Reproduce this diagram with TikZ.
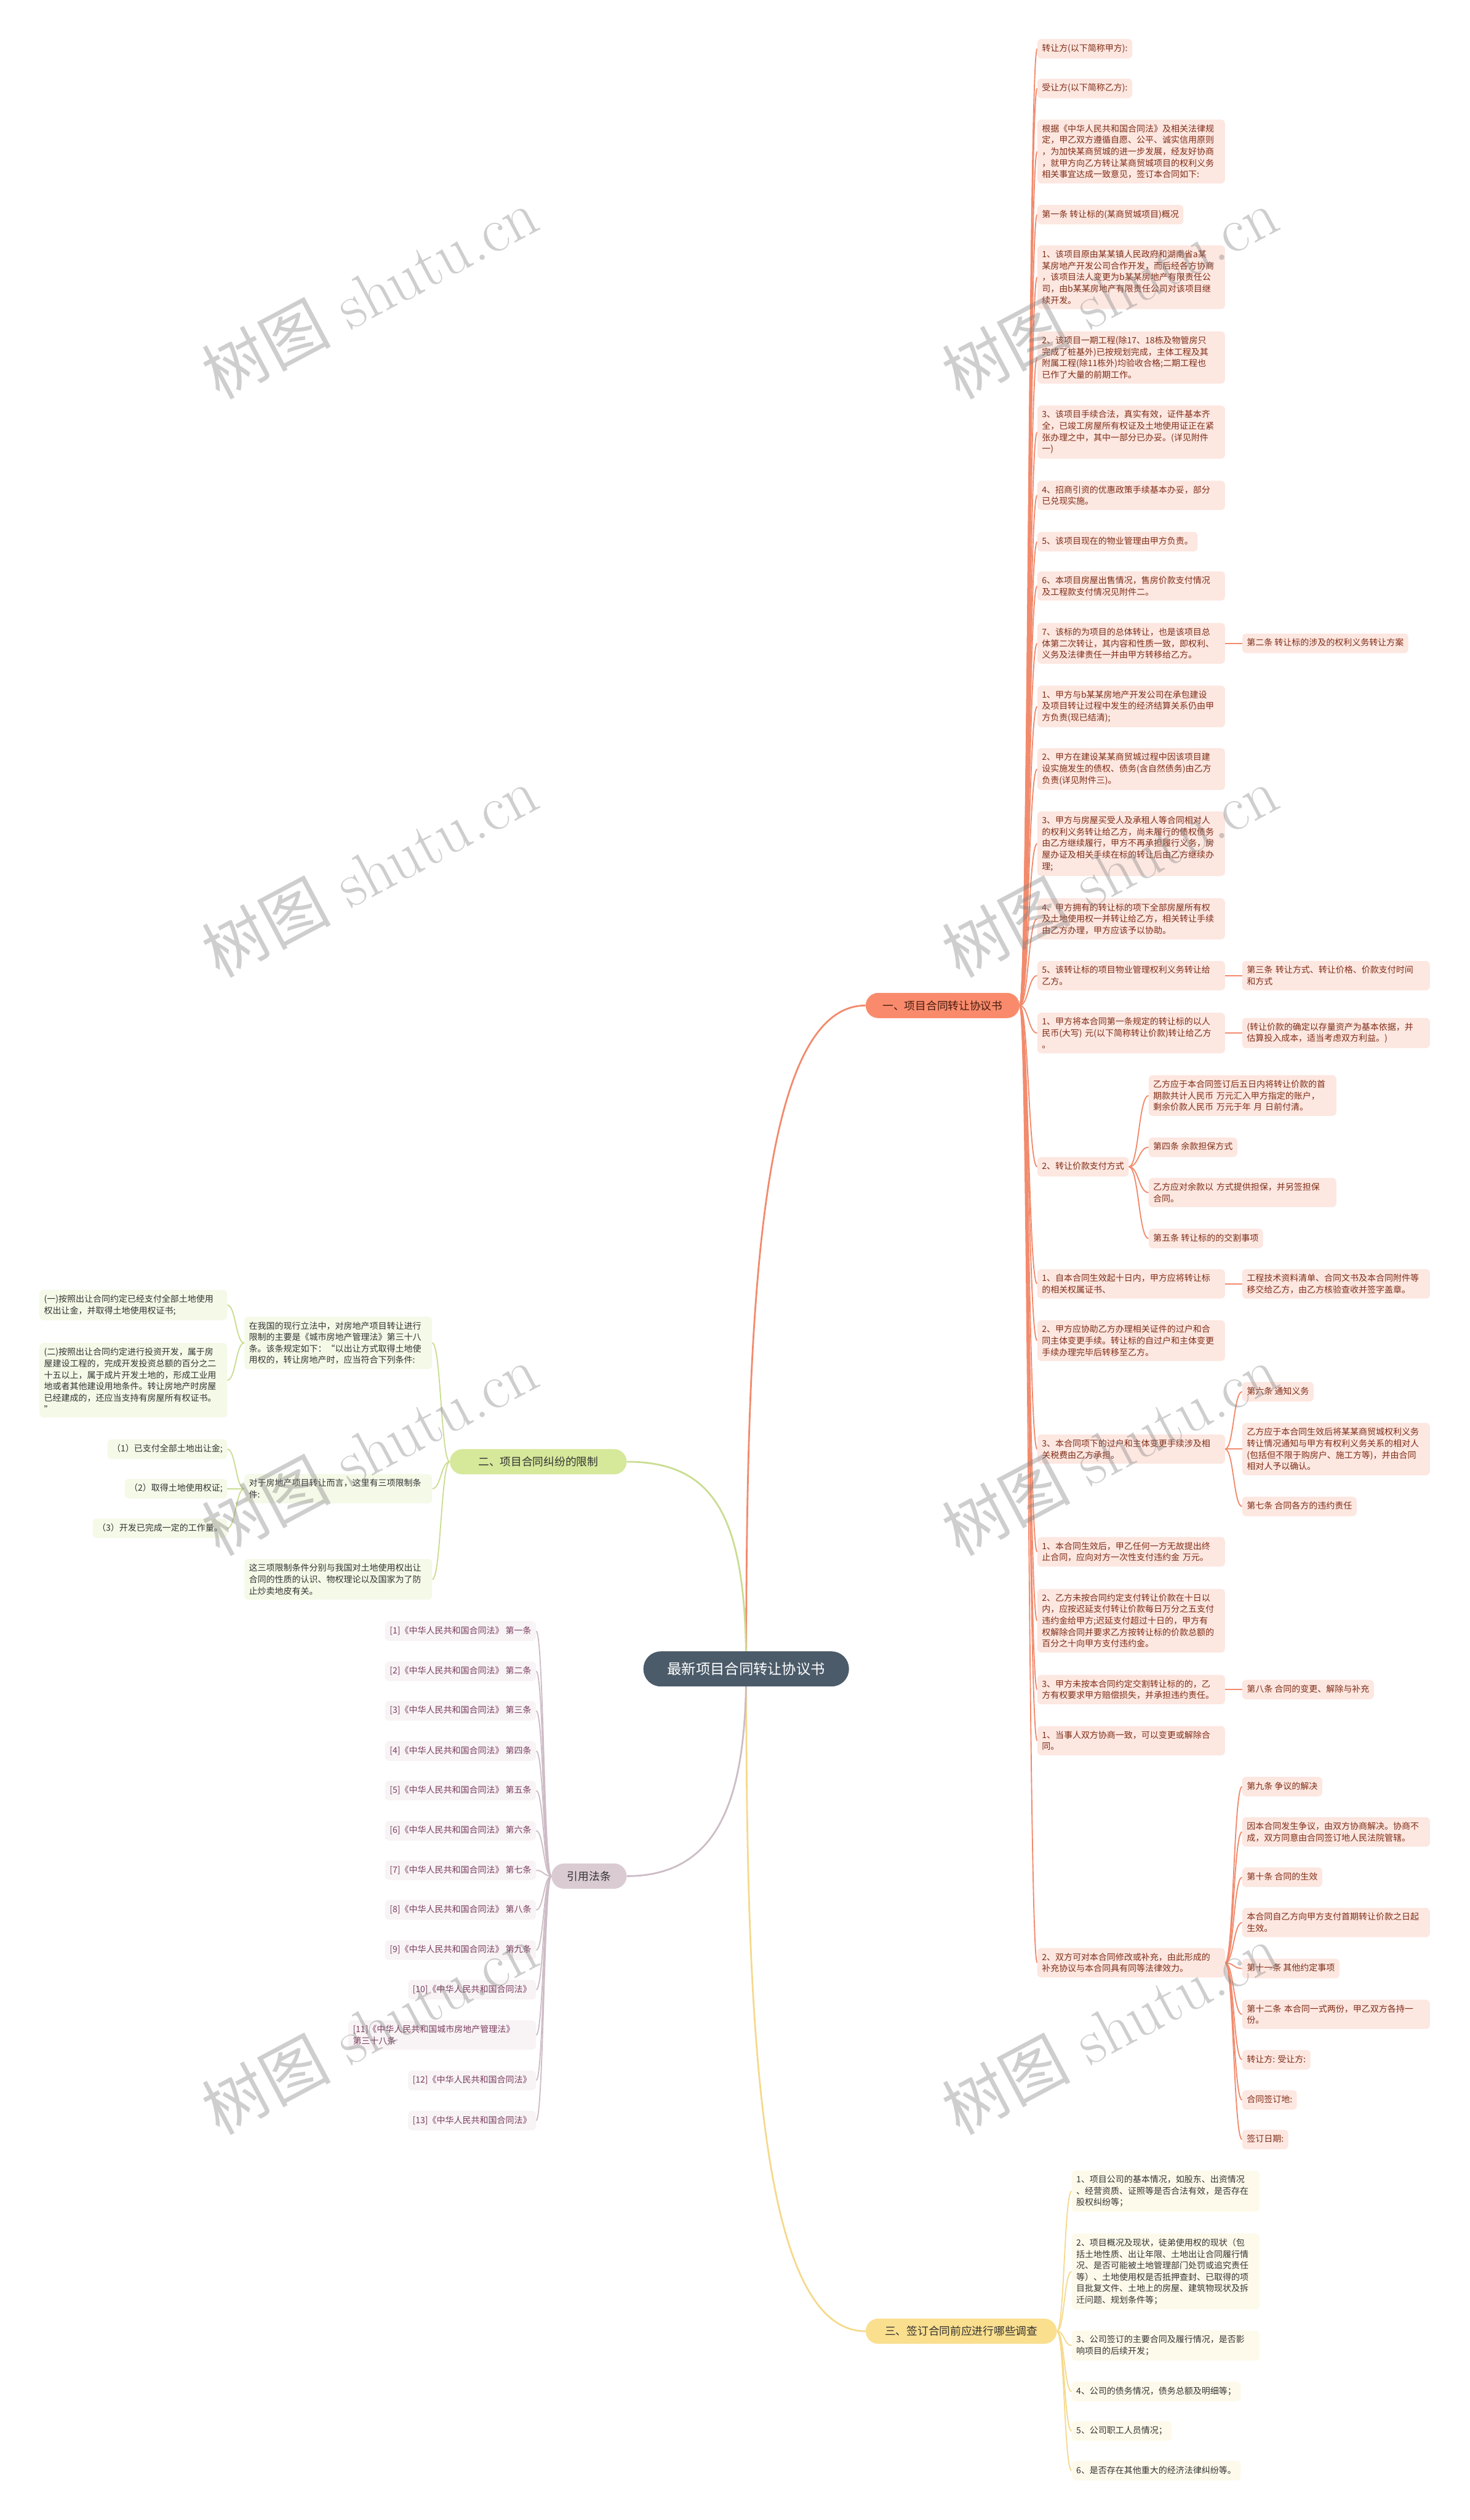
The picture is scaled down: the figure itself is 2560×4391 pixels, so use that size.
\documentclass[tikz,border=0pt]{standalone}
\usepackage{fontspec}
\newfontfamily\cjk{Noto Sans CJK SC}
\usetikzlibrary{calc}
\definecolor{cRoot}{HTML}{4B5B69}
\definecolor{cO}{HTML}{F98B6C}
\definecolor{cOb}{HTML}{4A1C10}
\definecolor{cOf}{HTML}{FDE7E1}
\definecolor{cOt}{HTML}{7F2D16}
\definecolor{cOl}{HTML}{F28A6C}
\definecolor{cG}{HTML}{D6E89A}
\definecolor{cGf}{HTML}{F5F9E8}
\definecolor{cGl}{HTML}{CADD92}
\definecolor{cM}{HTML}{DACBD3}
\definecolor{cMf}{HTML}{F8F3F5}
\definecolor{cMt}{HTML}{7A3D5E}
\definecolor{cMl}{HTML}{CDBCC6}
\definecolor{cY}{HTML}{FADF8E}
\definecolor{cYf}{HTML}{FEFAEB}
\definecolor{cYl}{HTML}{F5D98C}
\definecolor{cTx}{HTML}{333333}
\newcommand\leaffont{\cjk\fontsize{15}{20}\selectfont}
\pgfdeclarelayer{bg}
\pgfdeclarelayer{fg}
\pgfsetlayers{bg,main,fg}
\begin{document}
\begin{tikzpicture}[x=1pt,y=-1pt,
  hv/.style={to path={.. controls ($(\tikztostart)!.5!(\tikztotarget|-\tikztostart)$) and ($(\tikztotarget)!.5!(\tikztostart|-\tikztotarget)$) .. (\tikztotarget)}},
  box/.style={rounded corners=7pt, inner xsep=8pt, inner ysep=8.5pt, font=\leaffont, align=left},
  one/.style={text height=13pt, text depth=4pt},
  multi/.style={text width=311pt},
  ob/.style={box, fill=cOf, text=cOt, anchor=west},
  gb/.style={box, fill=cGf, text=cTx, anchor=east},
  mb/.style={box, fill=cMf, text=cMt, anchor=east},
  yb/.style={box, fill=cYf, text=cTx, anchor=west},
  branch/.style={rounded corners=22pt, minimum height=44pt, inner sep=0pt, text=cTx, font=\cjk\fontsize{19}{19}\selectfont},
  ol/.style={draw=cOl, line width=2pt},
  gl/.style={draw=cGl, line width=2pt},
  ml/.style={draw=cMl, line width=2pt},
  yl/.style={draw=cYl, line width=2pt},
  rl/.style={line width=3pt},
  wm/.style={rotate=28, text=black!50, opacity=0.38, font=\fontsize{112}{112}\selectfont, inner sep=0pt}
]
\useasboundingbox (0,0) rectangle (2560,4391);

% root and branches
\node[rounded corners=30pt, fill=cRoot, text=white, minimum width=358pt, minimum height=61pt, inner sep=0pt, font=\cjk\fontsize{25}{25}\selectfont] (root) at (1300,2908) {最新项目合同转让协议书};
\node[branch, fill=cO, text=cOb, anchor=west, minimum width=268pt] (b1) at (1508,1752) {一、项目合同转让协议书};
\node[branch, fill=cG, anchor=east, minimum width=308pt] (b2) at (1092,2547) {二、项目合同纠纷的限制};
\node[branch, fill=cM, anchor=east, minimum width=131pt] (b3) at (1092,3269) {引用法条};
\node[branch, fill=cY, anchor=west, minimum width=333pt] (b4) at (1508,4062) {三、签订合同前应进行哪些调查};

% branch 1 children
\node[ob,one] (o1) at (1807,85) {转让方(以下简称甲方):};
\node[ob,one] (o2) at (1807,154) {受让方(以下简称乙方):};
\node[ob,multi] (o3) at (1807,264) {根据《中华人民共和国合同法》及相关法律规\\定，甲乙双方遵循自愿、公平、诚实信用原则\\，为加快某商贸城的进一步发展，经友好协商\\，就甲方向乙方转让某商贸城项目的权利义务\\相关事宜达成一致意见，签订本合同如下:};
\node[ob,one] (o4) at (1807,374) {第一条 转让标的(某商贸城项目)概况};
\node[ob,multi] (o5) at (1807,483) {1、该项目原由某某镇人民政府和湖南省a某\\某房地产开发公司合作开发，而后经各方协商\\，该项目法人变更为b某某房地产有限责任公\\司，由b某某房地产有限责任公司对该项目继\\续开发。};
\node[ob,multi] (o6) at (1807,623) {2、该项目一期工程(除17、18栋及物管房只\\完成了桩基外)已按规划完成，主体工程及其\\附属工程(除11栋外)均验收合格;二期工程也\\已作了大量的前期工作。};
\node[ob,multi] (o7) at (1807,753) {3、该项目手续合法，真实有效，证件基本齐\\全，已竣工房屋所有权证及土地使用证正在紧\\张办理之中，其中一部分已办妥。(详见附件\\一)};
\node[ob,multi] (o8) at (1807,863) {4、招商引资的优惠政策手续基本办妥，部分\\已兑现实施。};
\node[ob,one] (o9) at (1807,944) {5、该项目现在的物业管理由甲方负责。};
\node[ob,multi] (o10) at (1807,1021) {6、本项目房屋出售情况，售房价款支付情况\\及工程款支付情况见附件二。};
\node[ob,multi] (o11) at (1807,1121) {7、该标的为项目的总体转让，也是该项目总\\体第二次转让，其内容和性质一致，即权利、\\义务及法律责任一并由甲方转移给乙方。};
\node[ob,multi] (o12) at (1807,1231) {1、甲方与b某某房地产开发公司在承包建设\\及项目转让过程中发生的经济结算关系仍由甲\\方负责(现已结清);};
\node[ob,multi] (o13) at (1807,1340) {2、甲方在建设某某商贸城过程中因该项目建\\设实施发生的债权、债务(含自然债务)由乙方\\负责(详见附件三)。};
\node[ob,multi] (o14) at (1807,1470) {3、甲方与房屋买受人及承租人等合同相对人\\的权利义务转让给乙方，尚未履行的债权债务\\由乙方继续履行，甲方不再承担履行义务，房\\屋办证及相关手续在标的转让后由乙方继续办\\理;};
\node[ob,multi] (o15) at (1807,1601) {4、甲方拥有的转让标的项下全部房屋所有权\\及土地使用权一并转让给乙方，相关转让手续\\由乙方办理，甲方应该予以协助。};
\node[ob,multi] (o16) at (1807,1700) {5、该转让标的项目物业管理权利义务转让给\\乙方。};
\node[ob,multi] (o17) at (1807,1800) {1、甲方将本合同第一条规定的转让标的以人\\民币(大写) 元(以下简称转让价款)转让给乙方\\。};
\node[ob,one] (o18) at (1807,2033) {2、转让价款支付方式};
\node[ob,multi] (o19) at (1807,2237) {1、自本合同生效起十日内，甲方应将转让标\\的相关权属证书、};
\node[ob,multi] (o20) at (1807,2336) {2、甲方应协助乙方办理相关证件的过户和合\\同主体变更手续。转让标的自过户和主体变更\\手续办理完毕后转移至乙方。};
\node[ob,multi] (o21) at (1807,2525) {3、本合同项下的过户和主体变更手续涉及相\\关税费由乙方承担。};
\node[ob,multi] (o22) at (1807,2704) {1、本合同生效后，甲乙任何一方无故提出终\\止合同，应向对方一次性支付违约金 万元。};
\node[ob,multi] (o23) at (1807,2824) {2、乙方未按合同约定支付转让价款在十日以\\内，应按迟延支付转让价款每日万分之五支付\\违约金给甲方;迟延支付超过十日的，甲方有\\权解除合同并要求乙方按转让标的价款总额的\\百分之十向甲方支付违约金。};
\node[ob,multi] (o24) at (1807,2944) {3、甲方未按本合同约定交割转让标的的，乙\\方有权要求甲方赔偿损失，并承担违约责任。};
\node[ob,multi] (o25) at (1807,3033) {1、当事人双方协商一致，可以变更或解除合\\同。};
\node[ob,multi] (o26) at (1807,3420) {2、双方可对本合同修改或补充，由此形成的\\补充协议与本合同具有同等法律效力。};

% third level (branch 1)
\node[ob,one] (p11) at (2164,1121) {第二条 转让标的涉及的权利义务转让方案};
\node[ob,multi] (p16) at (2164,1700) {第三条 转让方式、转让价格、价款支付时间\\和方式};
\node[ob,multi] (p17) at (2164,1800) {(转让价款的确定以存量资产为基本依据，并\\估算投入成本，适当考虑双方利益。)};
\node[ob,multi] (q1) at (2001,1909) {乙方应于本合同签订后五日内将转让价款的首\\期款共计人民币 万元汇入甲方指定的账户，\\剩余价款人民币 万元于年 月 日前付清。};
\node[ob,one] (q2) at (2001,1999) {第四条 余款担保方式};
\node[ob,multi] (q3) at (2001,2078) {乙方应对余款以 方式提供担保，并另签担保\\合同。};
\node[ob,one] (q4) at (2001,2158) {第五条 转让标的的交割事项};
\node[ob,multi] (p19) at (2164,2237) {工程技术资料清单、合同文书及本合同附件等\\移交给乙方，由乙方核验查收并签字盖章。};
\node[ob,one] (p21a) at (2164,2425) {第六条 通知义务};
\node[ob,multi] (p21b) at (2164,2525) {乙方应于本合同生效后将某某商贸城权利义务\\转让情况通知与甲方有权利义务关系的相对人\\(包括但不限于购房户、施工方等)，并由合同\\相对人予以确认。};
\node[ob,one] (p21c) at (2164,2625) {第七条 合同各方的违约责任};
\node[ob,one] (p24) at (2164,2944) {第八条 合同的变更、解除与补充};
\node[ob,one] (p26a) at (2164,3113) {第九条 争议的解决};
\node[ob,multi] (p26b) at (2164,3192) {因本合同发生争议，由双方协商解决。协商不\\成，双方同意由合同签订地人民法院管辖。};
\node[ob,one] (p26c) at (2164,3271) {第十条 合同的生效};
\node[ob,multi] (p26d) at (2164,3350) {本合同自乙方向甲方支付首期转让价款之日起\\生效。};
\node[ob,one] (p26e) at (2164,3430) {第十一条 其他约定事项};
\node[ob,multi] (p26f) at (2164,3510) {第十二条 本合同一式两份，甲乙双方各持一\\份。};
\node[ob,one] (p26g) at (2164,3589) {转让方: 受让方:};
\node[ob,one] (p26h) at (2164,3659) {合同签订地:};
\node[ob,one] (p26i) at (2164,3728) {签订日期:};

% branch 2
\node[gb,multi] (g1) at (753,2340) {在我国的现行立法中，对房地产项目转让进行\\限制的主要是《城市房地产管理法》第三十八\\条。该条规定如下：“以出让方式取得土地使\\用权的，转让房地产时，应当符合下列条件:};
\node[gb,multi] (g2) at (753,2594) {对于房地产项目转让而言，这里有三项限制条\\件:};
\node[gb,multi] (g3) at (753,2752) {这三项限制条件分别与我国对土地使用权出让\\合同的性质的认识、物权理论以及国家为了防\\止炒卖地皮有关。};
\node[gb,multi] (h1) at (396,2274) {(一)按照出让合同约定已经支付全部土地使用\\权出让金，并取得土地使用权证书;};
\node[gb,multi] (h2) at (396,2405) {(二)按照出让合同约定进行投资开发，属于房\\屋建设工程的，完成开发投资总额的百分之二\\十五以上，属于成片开发土地的，形成工业用\\地或者其他建设用地条件。转让房地产时房屋\\已经建成的，还应当支持有房屋所有权证书。\\”};
\node[gb,one] (h3) at (396,2525) {（1）已支付全部土地出让金;};
\node[gb,one] (h4) at (396,2594) {（2）取得土地使用权证;};
\node[gb,one] (h5) at (396,2663) {（3）开发已完成一定的工作量。};

% branch 3
\node[mb,one] (r1) at (934,2842) {[1]《中华人民共和国合同法》 第一条};
\node[mb,one] (r2) at (934,2912) {[2]《中华人民共和国合同法》 第二条};
\node[mb,one] (r3) at (934,2981) {[3]《中华人民共和国合同法》 第三条};
\node[mb,one] (r4) at (934,3051) {[4]《中华人民共和国合同法》 第四条};
\node[mb,one] (r5) at (934,3120) {[5]《中华人民共和国合同法》 第五条};
\node[mb,one] (r6) at (934,3190) {[6]《中华人民共和国合同法》 第六条};
\node[mb,one] (r7) at (934,3259) {[7]《中华人民共和国合同法》 第七条};
\node[mb,one] (r8) at (934,3328) {[8]《中华人民共和国合同法》 第八条};
\node[mb,one] (r9) at (934,3398) {[9]《中华人民共和国合同法》 第九条};
\node[mb,one] (r10) at (934,3467) {[10]《中华人民共和国合同法》};
\node[mb,multi] (r11) at (934,3546) {[11]《中华人民共和国城市房地产管理法》\\第三十八条};
\node[mb,one] (r12) at (934,3625) {[12]《中华人民共和国合同法》};
\node[mb,one] (r13) at (934,3695) {[13]《中华人民共和国合同法》};

% branch 4
\node[yb,multi] (s1) at (1867,3818) {1、项目公司的基本情况，如股东、出资情况\\、经营资质、证照等是否合法有效，是否存在\\股权纠纷等；};
\node[yb,multi] (s2) at (1867,3958) {2、项目概况及现状，徒弟使用权的现状（包\\括土地性质、出让年限、土地出让合同履行情\\况、是否可能被土地管理部门处罚或追究责任\\等）、土地使用权是否抵押查封、已取得的项\\目批复文件、土地上的房屋、建筑物现状及拆\\迁问题、规划条件等；};
\node[yb,multi] (s3) at (1867,4087) {3、公司签订的主要合同及履行情况，是否影\\响项目的后续开发；};
\node[yb,one] (s4) at (1867,4167) {4、公司的债务情况，债务总额及明细等；};
\node[yb,one] (s5) at (1867,4236) {5、公司职工人员情况；};
\node[yb,one] (s6) at (1867,4305) {6、是否存在其他重大的经济法律纠纷等。};

\begin{pgfonlayer}{bg}
\fill[white] (0,0) rectangle (2560,4391);
\draw[rl, draw=cOl] (root.center) .. controls (1300,2300) and (1320,1752) .. (b1.west);
\draw[rl, draw=cYl] (root.center) .. controls (1300,3516) and (1320,4062) .. (b4.west);
\draw[rl, draw=cGl] (root.center) .. controls (1300,2650) and (1250,2547) .. (b2.east);
\draw[rl, draw=cMl] (root.center) .. controls (1300,3120) and (1260,3269) .. (b3.east);
\foreach \i in {1,...,26} \draw[ol] (b1.east) to[hv] (o\i.west);
\draw[ol] (o11.east) to[hv] (p11.west);
\draw[ol] (o16.east) to[hv] (p16.west);
\draw[ol] (o17.east) to[hv] (p17.west);
\foreach \n in {q1,q2,q3,q4} \draw[ol] (o18.east) to[hv] (\n.west);
\draw[ol] (o19.east) to[hv] (p19.west);
\foreach \n in {p21a,p21b,p21c} \draw[ol] (o21.east) to[hv] (\n.west);
\draw[ol] (o24.east) to[hv] (p24.west);
\foreach \n in {p26a,p26b,p26c,p26d,p26e,p26f,p26g,p26h,p26i} \draw[ol] (o26.east) to[hv] (\n.west);
\foreach \n in {g1,g2,g3} \draw[gl] (b2.west) to[hv] (\n.east);
\foreach \n in {h1,h2} \draw[gl] (g1.west) to[hv] (\n.east);
\foreach \n in {h3,h4,h5} \draw[gl] (g2.west) to[hv] (\n.east);
\foreach \i in {1,...,13} \draw[ml] (b3.west) to[hv] (r\i.east);
\foreach \i in {1,...,6} \draw[yl] (b4.east) to[hv] (s\i.west);
\end{pgfonlayer}

\begin{pgfonlayer}{fg}
\begin{scope}
\clip (0,0) rectangle (2560,4391);
\foreach \yy in {510,1518,2526,3534,4542} {
  \node[wm] (wa\yy) at (644,\yy) {{\cjk 树图} shutu.cn};
  \node[wm] (wb\yy) at (1933,\yy) {{\cjk 树图} shutu.cn};
}
\end{scope}
\end{pgfonlayer}
\end{tikzpicture}
\end{document}
